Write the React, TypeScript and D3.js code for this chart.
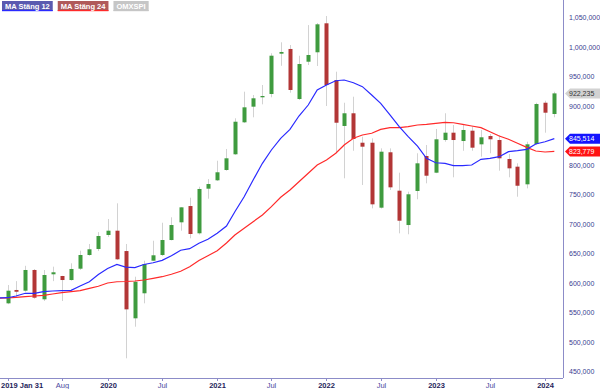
import React, { useRef, useEffect } from 'react';
import * as d3 from 'd3';

// monthly OMXSPI candles, Feb 2019 .. Feb 2024 (values in thousands)
const openVals = [566.4, 589, 587.8, 622.9, 573.2, 615.6, 612.7, 605.9, 625.1, 648.3, 658.5, 682.2, 689.5, 655, 541, 583.4, 638.6, 648.3, 673.7, 703.7, 731.3, 685.1, 760.7, 774.9, 792.4, 819, 873.2, 899.7, 915.6, 921.2, 989.5, 997.5, 912.7, 975.9, 991.9, 1041, 944.9, 867, 888.5, 838.6, 838.6, 728.5, 822.4, 757.3, 699.1, 756.8, 816.1, 787.8, 843.2, 855.6, 841.5, 859, 835.9, 850, 843.2, 811, 798, 768.1, 836.4, 906.4, 887.3];
const highVals = [597.4, 604, 630, 624.6, 622.9, 628.5, 613, 634.2, 655.6, 667, 687, 709.3, 735.9, 667, 611.5, 638.6, 672.5, 703, 712.2, 729.5, 745.4, 764, 777, 808.1, 828, 880, 925.1, 919.5, 936.4, 990.2, 1008.8, 1004.2, 986, 1038, 1041.5, 1053.4, 959, 906.4, 916.6, 848.8, 846, 829.1, 829, 787.8, 755.6, 820.7, 834.7, 861.9, 888.5, 868.6, 868.6, 865.8, 860.2, 853.4, 851.7, 819.5, 803.7, 840.3, 906.4, 909.8, 925];
const lowVals = [565, 577.6, 586, 574.2, 570.3, 604, 570.3, 604.8, 622.9, 647, 655, 679, 640, 473.2, 526.8, 566.4, 638, 646.6, 673, 689.5, 676.6, 683, 743.7, 773.7, 791, 818, 872, 881.7, 903.7, 915.6, 969, 923.4, 911, 970.3, 968.6, 900.8, 820.7, 778.3, 825, 767, 727.4, 727, 758.5, 685, 683.4, 742.7, 769.8, 787, 840.3, 780, 825, 825, 814.9, 820.7, 791.2, 780, 747.1, 761.3, 835, 855.6, 881.7];
const closeVals = [587.8, 586, 622.9, 575.9, 614.4, 619, 605.9, 624.6, 648.3, 658, 680.5, 689.5, 641, 556.2, 603, 633, 647.8, 673.7, 699.1, 729.1, 683.9, 760.2, 768.6, 788.5, 812.2, 874.2, 898.6, 913.9, 917.8, 986.1, 992.4, 928, 972, 987.3, 1039.3, 936.4, 872.5, 888.5, 844.9, 831.9, 734.2, 823.4, 763, 706.4, 751.2, 803.7, 782.7, 844.4, 855.6, 843.2, 860.2, 830.2, 847.8, 844.4, 812.2, 795.2, 765.7, 835.9, 904.2, 889.5, 922.235];

// moving averages, Jan 2019 .. Feb 2024
const ma12Vals = [575.5, 575.9, 578.8, 583.4, 583.4, 586.1, 587.3, 587.8, 588.5, 595.7, 603, 615.2, 625.4, 632.2, 627.9, 626.8, 632.2, 635.2, 639.3, 646.9, 656.3, 659, 668.1, 674.9, 685.1, 697.4, 721.7, 747.1, 775.4, 803.7, 826.3, 846.1, 861.3, 883.9, 902.5, 928, 936.4, 943.7, 944.9, 940.3, 933.6, 919.5, 905.4, 885.6, 865.8, 848.8, 833, 812.2, 804.7, 803.7, 799.7, 799.7, 800.8, 810.5, 812.2, 814.9, 823.4, 825.1, 827.4, 836.4, 840.3, 845.514];
const ma24Vals = [575, 575.4, 576.6, 577.6, 578.8, 580, 582.2, 584.4, 586.1, 587.8, 591.8, 595.4, 600.8, 603, 603.4, 604.2, 605.9, 608.8, 611.5, 615.7, 620.8, 628.5, 639, 647.1, 655.6, 668.6, 682.2, 693.5, 704.7, 716.1, 730.2, 746.1, 758.5, 772.5, 786.8, 800.8, 809.3, 820.7, 834.7, 846.1, 851.7, 854.6, 861.3, 864.1, 864.1, 865.8, 868.6, 869.8, 871.5, 873.2, 872.5, 869.8, 866.9, 864.1, 857.3, 850, 844.4, 837.6, 830.8, 824.6, 822.9, 823.779];

const yTicks = [1050, 1000, 950, 900, 800, 750, 700, 650, 600, 550, 500, 450];
const xTickDates = [new Date(2019, 1, 1), new Date(2019, 7, 1), new Date(2020, 0, 1), new Date(2020, 6, 1), new Date(2021, 0, 1), new Date(2021, 6, 1), new Date(2022, 0, 1), new Date(2022, 6, 1), new Date(2023, 0, 1), new Date(2023, 6, 1), new Date(2024, 0, 1)];
const xTickLabels = ['2019 Jan 31', 'Aug', '2020', 'Jul', '2021', 'Jul', '2022', 'Jul', '2023', 'Jul', '2024'];

const legendItems = [
    { label: 'MA Stäng 12', fill: '#5a5ab0', line: '#2a2aff' },
    { label: 'MA Stäng 24', fill: '#b05a5a', line: '#ff2a2a' },
    { label: 'OMXSPI', fill: '#c6c6c6', line: '#c6c6c6' },
];

export default function App() {
    const svgRef = useRef(null);
    const width = 600, height = 389;
    const plotRight = 563, plotBottom = 378;

    useEffect(() => {
        const svg = d3.select(svgRef.current);
        svg.selectAll('*').remove();

        const candleMonths = d3.timeMonth.range(new Date(2019, 1, 1), new Date(2024, 2, 1));
        const maMonths = d3.timeMonth.range(new Date(2019, 0, 1), new Date(2024, 2, 1));
        const candles = candleMonths.map((d, i) => ({
            date: d, o: openVals[i], h: highVals[i], l: lowVals[i], c: closeVals[i],
        }));

        const x = d3.scaleTime()
            .domain([new Date(2019, 0, 6, 12), new Date(2024, 2, 1)])
            .range([0, plotRight]);
        const y = d3.scaleLinear()
            .domain([450, 1050])
            .range([372, 18]);

        const font = 'Liberation Sans, Arial, sans-serif';

        svg.append('defs').append('clipPath').attr('id', 'plot')
            .append('rect').attr('x', 0).attr('y', 0).attr('width', plotRight).attr('height', plotBottom);

        const plot = svg.append('g').attr('clip-path', 'url(#plot)');

        // wicks
        plot.append('g').selectAll('line')
            .data(candles)
            .join('line')
            .attr('x1', d => Math.round(x(d.date)) + 0.5)
            .attr('x2', d => Math.round(x(d.date)) + 0.5)
            .attr('y1', d => y(d.h))
            .attr('y2', d => y(d.l))
            .attr('stroke', '#d2d2d2')
            .attr('stroke-width', 1);

        // bodies
        plot.append('g').selectAll('rect')
            .data(candles)
            .join('rect')
            .attr('x', d => Math.round(x(d.date)) - 1.5)
            .attr('width', 4)
            .attr('y', d => y(Math.max(d.o, d.c)))
            .attr('height', d => Math.max(1, Math.abs(y(d.o) - y(d.c))))
            .attr('fill', d => d.c >= d.o ? '#3f9b3f' : '#b23636');

        const line = d3.line()
            .x(d => x(d[0]))
            .y(d => y(d[1]));

        plot.append('path')
            .datum(maMonths.map((d, i) => [d, ma24Vals[i]]))
            .attr('fill', 'none')
            .attr('stroke', '#ff2a2a')
            .attr('stroke-width', 1.2)
            .attr('d', line);

        plot.append('path')
            .datum(maMonths.map((d, i) => [d, ma12Vals[i]]))
            .attr('fill', 'none')
            .attr('stroke', '#2a2aff')
            .attr('stroke-width', 1.2)
            .attr('d', line);

        // axes lines
        svg.append('line')
            .attr('x1', plotRight + 0.5).attr('x2', plotRight + 0.5)
            .attr('y1', 0).attr('y2', plotBottom)
            .attr('stroke', '#8c8cc8');
        svg.append('line')
            .attr('x1', 0).attr('x2', plotRight)
            .attr('y1', plotBottom + 0.5).attr('y2', plotBottom + 0.5)
            .attr('stroke', '#8c8cc8');

        // y labels
        const fmt = d3.format(',');
        svg.append('g').selectAll('text')
            .data(yTicks)
            .join('text')
            .attr('x', 569)
            .attr('y', d => y(d))
            .attr('dy', '0.35em')
            .attr('font-size', 7)
            .attr('font-family', font)
            .attr('fill', '#3b3b8f')
            .text(d => fmt(d * 1000));

        // x ticks
        const xt = svg.append('g');
        xTickDates.forEach((d, i) => {
            const px = Math.round(x(d)) + 0.5;
            const isYear = i === 0 || xTickLabels[i].length === 4;
            xt.append('line')
                .attr('x1', px).attr('x2', px)
                .attr('y1', plotBottom).attr('y2', plotBottom + 3)
                .attr('stroke', '#8c8cc8');
            xt.append('text')
                .attr('x', i === 0 ? 1 : px)
                .attr('y', 388)
                .attr('text-anchor', i === 0 ? 'start' : 'middle')
                .attr('font-size', 7.5)
                .attr('font-weight', isYear ? 'bold' : 'normal')
                .attr('font-family', font)
                .attr('fill', isYear ? '#1e1e5a' : '#4a4aa0')
                .text(xTickLabels[i]);
        });

        // value tags
        const tags = [
            { v: closeVals[closeVals.length - 1], fill: '#d2d2d2', color: '#333' },
            { v: ma12Vals[ma12Vals.length - 1], fill: '#1414ff', color: '#fff' },
            { v: ma24Vals[ma24Vals.length - 1], fill: '#ff1414', color: '#fff' },
        ];
        const tagFmt = d3.format(',.0f');
        tags.forEach(t => {
            const ty = y(t.v);
            svg.append('path')
                .attr('d', `M${plotRight + 2},${ty} L${plotRight + 7},${ty - 5} L${width},${ty - 5} L${width},${ty + 5} L${plotRight + 7},${ty + 5} Z`)
                .attr('fill', t.fill);
            svg.append('text')
                .attr('x', 569)
                .attr('y', ty)
                .attr('dy', '0.35em')
                .attr('font-size', 7)
                .attr('font-family', font)
                .attr('fill', t.color)
                .text(tagFmt(t.v * 1000));
        });

        // legend
        let lx = 2;
        legendItems.forEach(item => {
            const g = svg.append('g');
            const txt = g.append('text')
                .attr('x', lx + 3)
                .attr('y', 8.5)
                .attr('font-size', 7.5)
                .attr('font-weight', 'bold')
                .attr('font-family', font)
                .attr('fill', '#fff')
                .text(item.label);
            const w = txt.node().getComputedTextLength() + 6;
            g.insert('rect', 'text')
                .attr('x', lx).attr('y', 1)
                .attr('width', w).attr('height', 10)
                .attr('fill', item.fill);
            g.insert('rect', 'text')
                .attr('x', lx).attr('y', 10)
                .attr('width', w).attr('height', 1.2)
                .attr('fill', item.line);
            lx += w + 5;
        });
    }, []);

    return (
        <div style={{ position: 'absolute', left: 0, top: 0 }}>
            <svg ref={svgRef} width={width} height={height} style={{ display: 'block', background: '#fff' }} />
        </div>
    );
}
